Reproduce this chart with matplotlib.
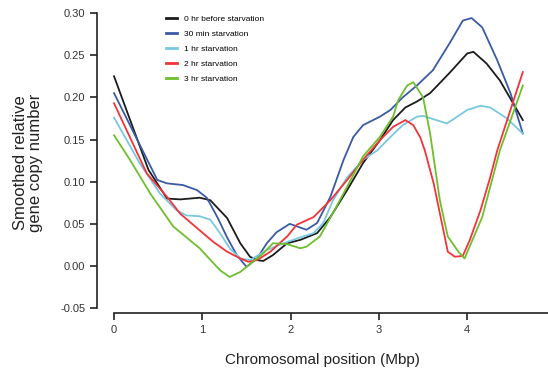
import matplotlib.pyplot as plt

plt.rcParams['font.family'] = ['Liberation Sans', 'DejaVu Sans']

# values (x in Mbp, y = smoothed relative copy number)
x_0h = [0.0, 0.39, 0.6, 0.75, 0.97, 1.09, 1.28, 1.43, 1.54, 1.62, 1.69, 1.8, 1.96, 2.11,
        2.3, 2.45, 2.64, 2.82, 3.01, 3.16, 3.3, 3.43, 3.58, 3.8, 4.0, 4.07, 4.22, 4.37, 4.52, 4.63]
y_0h = [0.225, 0.114, 0.08, 0.079, 0.081, 0.078, 0.057, 0.027, 0.011, 0.007, 0.006, 0.013, 0.027, 0.031,
        0.039, 0.058, 0.09, 0.122, 0.149, 0.173, 0.188, 0.195, 0.205, 0.229, 0.252, 0.254, 0.24, 0.22, 0.193, 0.173]

x_30m = [0.0, 0.49, 0.6, 0.78, 0.94, 1.05, 1.17, 1.28, 1.39, 1.5, 1.62, 1.73, 1.84, 1.99, 2.18,
         2.3, 2.45, 2.6, 2.71, 2.82, 3.01, 3.13, 3.27, 3.43, 3.61, 3.8, 3.95, 4.05, 4.17, 4.34, 4.49, 4.63]
y_30m = [0.205, 0.102, 0.098, 0.096, 0.09, 0.081, 0.058, 0.034, 0.013, -0.001, 0.009, 0.027, 0.04, 0.05, 0.043,
         0.051, 0.082, 0.126, 0.153, 0.167, 0.177, 0.185, 0.2, 0.214, 0.232, 0.264, 0.291, 0.294, 0.283, 0.244, 0.205, 0.157]

x_1h = [0.0, 0.29, 0.52, 0.71, 0.82, 0.97, 1.09, 1.2, 1.31, 1.43, 1.54, 1.73, 1.92, 2.11, 2.26,
        2.37, 2.48, 2.64, 2.82, 2.98, 3.13, 3.27, 3.43, 3.5, 3.77, 4.0, 4.15, 4.26, 4.45, 4.63]
y_1h = [0.176, 0.122, 0.086, 0.066, 0.06, 0.059, 0.055, 0.039, 0.021, 0.009, 0.007, 0.019, 0.027, 0.034, 0.039,
        0.051, 0.078, 0.105, 0.126, 0.137, 0.153, 0.167, 0.177, 0.178, 0.169, 0.185, 0.19, 0.188, 0.175, 0.157]

x_2h = [0.0, 0.37, 0.6, 0.75, 0.94, 1.12, 1.28, 1.43, 1.52, 1.62, 1.77, 1.96, 2.07, 2.26, 2.45, 2.64,
        2.82, 3.01, 3.16, 3.3, 3.39, 3.47, 3.52, 3.62, 3.78, 3.86, 3.95, 4.03, 4.15, 4.26, 4.34, 4.63]
y_2h = [0.193, 0.11, 0.082, 0.062, 0.045, 0.029, 0.017, 0.009, 0.005, 0.007, 0.017, 0.035, 0.049, 0.058, 0.078, 0.102,
        0.126, 0.149, 0.165, 0.173, 0.167, 0.152, 0.137, 0.098, 0.017, 0.011, 0.012, 0.031, 0.066, 0.105, 0.137, 0.23]

x_3h = [0.0, 0.18, 0.41, 0.67, 0.97, 1.2, 1.31, 1.43, 1.56, 1.69, 1.8, 1.96, 2.11, 2.18, 2.33, 2.48, 2.64,
        2.82, 3.01, 3.16, 3.22, 3.32, 3.39, 3.5, 3.58, 3.69, 3.78, 3.9, 3.97, 4.17, 4.37, 4.63]
y_3h = [0.155, 0.126, 0.086, 0.047, 0.021, -0.005, -0.013, -0.007, 0.004, 0.015, 0.027, 0.026, 0.021, 0.023, 0.035, 0.063, 0.094,
        0.13, 0.153, 0.177, 0.197, 0.214, 0.218, 0.2, 0.157, 0.078, 0.035, 0.017, 0.009, 0.058, 0.137, 0.214]

labels = ["0 hr before starvation", "30 min starvation", "1 hr starvation",
          "2 hr starvation", "3 hr starvation"]
colors = ["#1c1c1c", "#3b5aa6", "#79c8e0", "#f2343a", "#6fbe2c"]

fig = plt.figure(figsize=(5.48, 3.7), dpi=100)
ax = fig.add_axes([97 / 548, 57 / 370, 451 / 548, 300 / 370])

for xs, ys, lab, c in zip([x_0h, x_30m, x_1h, x_2h, x_3h],
                          [y_0h, y_30m, y_1h, y_2h, y_3h], labels, colors):
    ax.plot(xs, ys, color=c, lw=1.3, label=lab)

ax.set_xlim(-0.193, 4.915)
ax.set_ylim(-0.0557, 0.30)
ax.set_xticks([0, 1, 2, 3, 4])
ax.set_yticks([-0.05, 0.0, 0.05, 0.10, 0.15, 0.20, 0.25, 0.30])
ax.set_yticklabels(["-0.05", "0.00", "0.05", "0.10", "0.15", "0.20", "0.25", "0.30"])

for s in ["top", "right"]:
    ax.spines[s].set_visible(False)
ax.spines["left"].set_bounds(-0.05, 0.30)
ax.spines["bottom"].set_bounds(0, 4.915)
for s in ["left", "bottom"]:
    ax.spines[s].set_linewidth(1.2)
    ax.spines[s].set_color("#222222")
ax.tick_params(direction="out", length=5, width=1.2, labelsize=8,
               labelcolor="#333333", color="#222222")

ax.set_xlabel("Chromosomal position (Mbp)", fontsize=11, labelpad=13, color="#222222")
ax.set_ylabel("Smoothed relative\ngene copy number", fontsize=12, labelpad=12,
              color="#222222", linespacing=1.0)

leg = ax.legend(loc="upper left", bbox_to_anchor=(158 / 548, 362 / 370),
                bbox_transform=fig.transFigure, frameon=False, fontsize=6,
                handlelength=1.4, handletextpad=0.8, labelspacing=0.85)
for line in leg.get_lines():
    line.set_linewidth(2)

fig.savefig("out.png", dpi=100)
